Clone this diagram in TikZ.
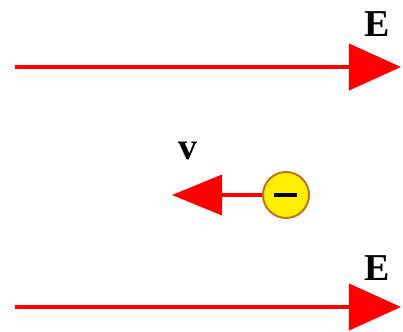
\documentclass[tikz,border=0pt]{standalone}
\usepackage{tikz}
\usepackage{fontspec}
\setmainfont{Liberation Serif}
\usetikzlibrary{positioning, arrows.meta}

\definecolor{fieldred}{RGB}{255,0,0}
\definecolor{chargerim}{RGB}{200,110,30}
\definecolor{chargefill}{RGB}{255,240,0}

\begin{document}
\begin{tikzpicture}[
    x=0.025cm, y=-0.025cm,
    field/.style={-{Triangle[length=1.3cm, width=1.15cm]}, line width=3pt, fieldred},
    velocity/.style={-{Triangle[length=1.25cm, width=1cm]}, line width=2.8pt, fieldred},
    charge/.style={circle, draw=chargerim, line width=1.4pt, fill=chargefill, minimum size=1.15cm, inner sep=0pt},
    label/.style={font=\fontsize{27}{30}\selectfont\bfseries, inner sep=0pt}
]
    \useasboundingbox (0,0) rectangle (403,331);

    % Field lines
    \coordinate (top-start) at (15,67);
    \coordinate (top-end) at (401,67);
    \coordinate (bot-start) at (15,307);
    \coordinate (bot-end) at (401,307);
    \draw[field] (top-start) -- (top-end);
    \draw[field] (bot-start) -- (bot-end);

    % Electron and its velocity
    \node[charge] (electron) at (286,195) {};
    \draw[line width=2.4pt, black] ([xshift=-0.3cm]electron.center) -- ([xshift=0.28cm]electron.center);
    \coordinate (v-tip) at (172,195);
    \draw[velocity] (electron) -- (v-tip);

    % Labels
    \node[label] (E-top) at (377.5,24) {E};
    \node[label] (E-bot) at (377.5,268) {E};
    \node[label] (v-label) at (187.5,151) {v};

\end{tikzpicture}
\end{document}
